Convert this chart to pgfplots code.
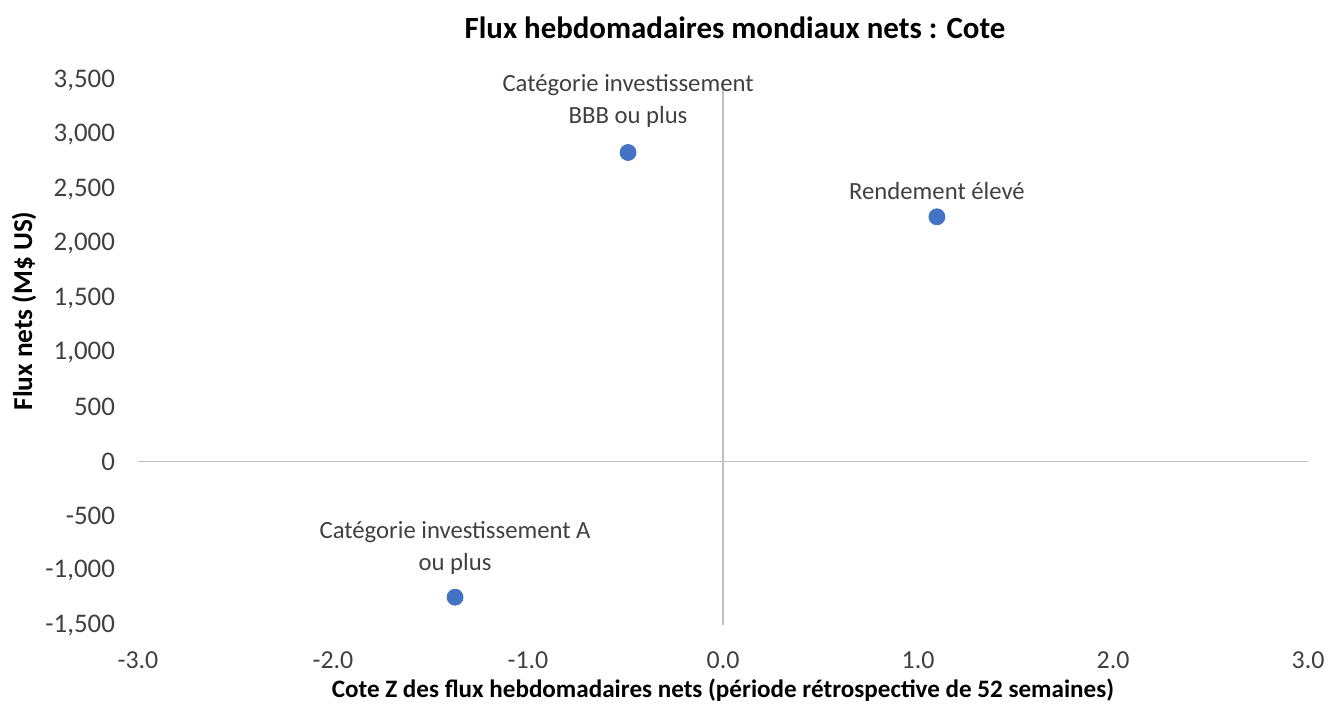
\documentclass[border=0pt]{standalone}
\usepackage{pgfplots}
\pgfplotsset{compat=1.18}
\usepackage{fontspec}
\setmainfont{Carlito}
\definecolor{ptblue}{HTML}{4472C4}
\definecolor{axgray}{HTML}{BFBFBF}
\definecolor{txt}{HTML}{404040}
\begin{document}
\begin{tikzpicture}[x=1bp,y=1bp]
\useasboundingbox (0,0) rectangle (670,358.5);
\begin{axis}[
  at={(69bp,46bp)}, anchor=south west,
  scale only axis, width=585bp, height=272.5bp,
  xmin=-3, xmax=3, ymin=-1500, ymax=3500,
  axis line style={draw=none},
  major tick length=0pt,
  xtick={-3,-2,-1,0,1,2,3},
  ytick={-1500,-1000,-500,0,500,1000,1500,2000,2500,3000,3500},
  /pgf/number format/assume math mode=true,
  x tick label style={/pgf/number format/.cd, fixed, fixed zerofill, precision=1, /tikz/.cd, font=\fontsize{13}{15}\selectfont, text=txt, yshift=-10bp},
  y tick label style={/pgf/number format/.cd, 1000 sep={,}, /tikz/.cd, font=\fontsize{13.5}{15}\selectfont, text=txt, xshift=-8bp},
  clip=false,
]
\addplot[axgray, line width=0.8bp, no marks] coordinates {(-3,0) (3,0)};
\addplot[axgray, line width=0.8bp, no marks] coordinates {(0,-1500) (0,3500)};
\addplot[only marks, mark=*, mark size=4bp, ptblue, mark options={draw=ptblue, fill=ptblue}] coordinates {
  (-0.487,2835) (1.097,2245) (-1.374,-1245)
};
\node[align=center, font=\fontsize{12.4}{16}\selectfont, text=txt, anchor=south] at (axis cs:-0.487,2835) [yshift=9bp] {Catégorie investissement\\BBB ou plus};
\node[align=center, font=\fontsize{12.4}{16}\selectfont, text=txt, anchor=south] at (axis cs:1.097,2245) [yshift=5bp] {Rendement élevé};
\node[align=center, font=\fontsize{12.4}{16}\selectfont, text=txt, anchor=south] at (axis cs:-1.374,-1245) [yshift=8bp] {Catégorie investissement A\\ou plus};
\end{axis}
\node[font=\bfseries\fontsize{15.5}{17}\selectfont, text=black] at (367.5,344.5) {Flux hebdomadaires mondiaux nets : Cote};
\node[font=\bfseries\fontsize{12.6}{14}\selectfont, text=black] at (361.5,13.5) {Cote Z des flux hebdomadaires nets (période rétrospective de 52 semaines)};
\node[font=\bfseries\fontsize{13.7}{15}\selectfont, text=black, rotate=90] at (12,203) {Flux nets (M\$ US)};
\end{tikzpicture}
\end{document}
